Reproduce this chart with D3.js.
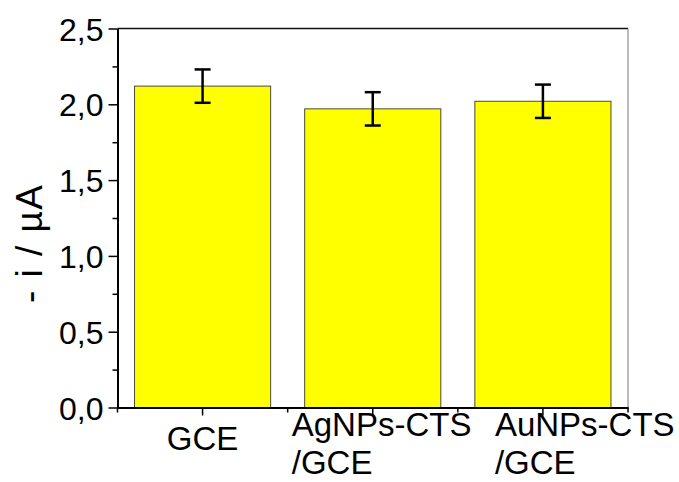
<!DOCTYPE html>
<html>
<head>
<meta charset="utf-8">
<script src="https://cdn.jsdelivr.net/npm/d3@7"></script>
<style>
  html, body { margin: 0; padding: 0; background: #fff; }
  svg { display: block; font-family: Arial, "Liberation Sans", sans-serif; }
</style>
</head>
<body>
<svg id="chart" width="679" height="482"></svg>
<script>
// Electrode categories and measured current (-i / µA) with standard deviation
const categories = ["GCE", "AgNPs-CTS/GCE", "AuNPs-CTS/GCE"];
const labelLines = [["GCE"], ["AgNPs-CTS", "/GCE"], ["AuNPs-CTS", "/GCE"]];
const currents = [2.12, 1.97, 2.02];
const errors = [0.11, 0.11, 0.11];
const yMajorTicks = [0, 0.5, 1.0, 1.5, 2.0, 2.5];
const yMinorTicks = [0.25, 0.75, 1.25, 1.75, 2.25];

const svg = d3.select("#chart");
const plotLeft = 117.5, plotRight = 628, plotTop = 28.5, plotBottom = 407.5;

const x = d3.scaleBand().domain(categories).range([plotLeft, plotRight])
  .paddingInner(0.2).paddingOuter(0.1);
const y = d3.scaleLinear().domain([0, 2.5]).range([plotBottom, plotTop]);
const fmt = d => d.toFixed(1).replace(".", ",");

// Bars
svg.append("g").selectAll("rect").data(categories).join("rect")
  .attr("x", d => x(d))
  .attr("y", (d, i) => y(currents[i]))
  .attr("width", x.bandwidth())
  .attr("height", (d, i) => y(0) - y(currents[i]))
  .attr("fill", "#ffff00")
  .attr("stroke", "#4a4a3a")
  .attr("stroke-width", 1);

// Error bars
const eb = svg.append("g").attr("stroke", "#000").attr("stroke-width", 2.5);
categories.forEach((c, i) => {
  const cx = x(c) + x.bandwidth() / 2;
  const y1 = y(currents[i] + errors[i]), y0 = y(currents[i] - errors[i]);
  eb.append("line").attr("x1", cx).attr("x2", cx).attr("y1", y1).attr("y2", y0);
  eb.append("line").attr("x1", cx - 8).attr("x2", cx + 8).attr("y1", y1).attr("y2", y1);
  eb.append("line").attr("x1", cx - 8).attr("x2", cx + 8).attr("y1", y0).attr("y2", y0);
});

// Frame: top and right edges
svg.append("line").attr("x1", plotLeft).attr("x2", plotRight).attr("y1", plotTop).attr("y2", plotTop)
  .attr("stroke", "#111").attr("stroke-width", 1.5);
svg.append("line").attr("x1", plotRight).attr("x2", plotRight).attr("y1", plotTop).attr("y2", plotBottom)
  .attr("stroke", "#777").attr("stroke-width", 1);

// Y axis
const yAxis = svg.append("g").attr("transform", `translate(${plotLeft},0)`)
  .call(d3.axisLeft(y).tickValues(yMajorTicks).tickFormat(fmt).tickSize(9).tickPadding(5).tickSizeOuter(0));
yAxis.select(".domain").attr("stroke", "#000").attr("stroke-width", 2);
yAxis.selectAll(".tick line").attr("stroke-width", 1.5);
yAxis.selectAll("text").attr("font-size", 32).attr("fill", "#000").attr("dy", "0.36em");
svg.append("g").attr("transform", `translate(${plotLeft},0)`)
  .call(d3.axisLeft(y).tickValues(yMinorTicks).tickFormat("").tickSize(5).tickSizeOuter(0))
  .call(g => g.select(".domain").remove())
  .selectAll(".tick line").attr("stroke-width", 1.5);

// X axis
const xAxis = svg.append("g").attr("transform", `translate(0,${plotBottom})`)
  .call(d3.axisBottom(x).tickSize(8).tickFormat("").tickSizeOuter(0));
xAxis.select(".domain").attr("stroke", "#000").attr("stroke-width", 2);
xAxis.selectAll(".tick line").attr("stroke-width", 1.5);
const step = x.step();
const minorX = [x(categories[0]) - step * 0.1].concat(categories.map(c => x(c) + x.bandwidth() / 2 + step / 2));
svg.append("g").attr("stroke", "#000").attr("stroke-width", 1.5)
  .selectAll("line").data(minorX).join("line")
  .attr("x1", d => d).attr("x2", d => d)
  .attr("y1", plotBottom).attr("y2", plotBottom + 5);

// Category labels
const labelDx = [0, -81, -48];
const lab = svg.append("g").attr("font-size", 33).attr("fill", "#000");
labelLines.forEach((lines, i) => {
  const cx = x(categories[i]) + x.bandwidth() / 2;
  if (lines.length === 1) {
    lab.append("text").attr("x", cx).attr("y", 450).attr("text-anchor", "middle").text(lines[0]);
  } else {
    lines.forEach((t, j) => {
      lab.append("text").attr("x", cx + labelDx[i]).attr("y", 436 + j * 38)
        .attr("text-anchor", "start").text(t);
    });
  }
});

// Y axis title
svg.append("text")
  .attr("transform", "translate(42,244) rotate(-90)")
  .attr("text-anchor", "middle")
  .attr("font-size", 37)
  .attr("fill", "#000")
  .attr("textLength", 118)
  .attr("lengthAdjust", "spacing")
  .text("- i / µA");
</script>
</body>
</html>
